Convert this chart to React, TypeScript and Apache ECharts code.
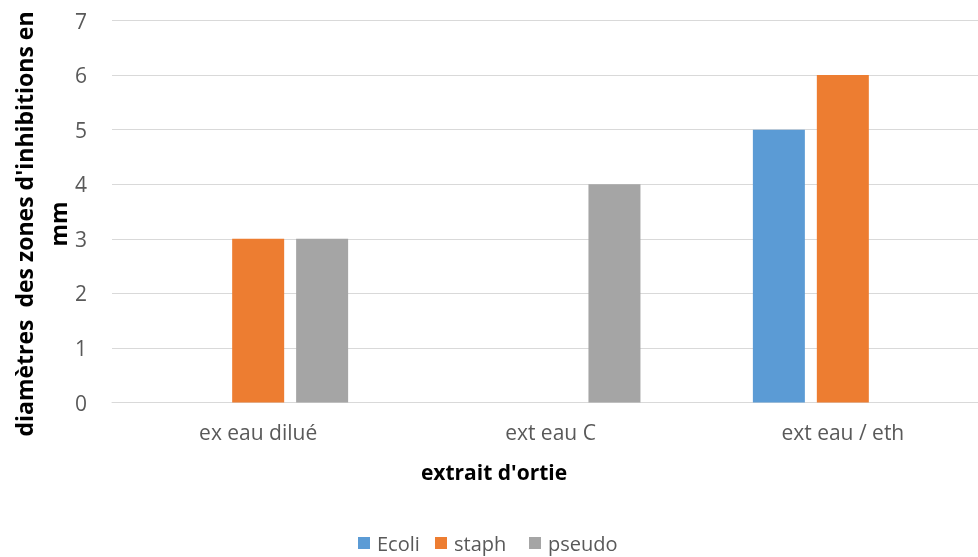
import React, { useEffect, useRef } from "react";
import * as echarts from "echarts";

const categories = ["ex eau dilué", "ext eau C", "ext eau / eth"];
const ecoli = [0, 0, 5];
const staph = [3, 0, 6];
const pseudo = [3, 4, 0];
const seriesNames = ["Ecoli", "staph", "pseudo"];
const colors = ["#5b9bd5", "#ed7d31", "#a5a5a5"];
const yTitle = "diamètres  des zones d'inhibitions en\nmm";
const xTitle = "extrait d'ortie";

export default function App() {
  const ref = useRef<HTMLDivElement>(null);
  useEffect(() => {
    if (!ref.current) return;
    const chart = echarts.init(ref.current, undefined, { renderer: "svg" });
    const font = "'Open Sans', 'Noto Sans', sans-serif";
    const data = [ecoli, staph, pseudo];
    const legendLefts = [358, 435, 529];
    chart.setOption({
      animation: false,
      textStyle: { fontFamily: font },
      grid: { left: 112, right: 0, top: 20.5, bottom: 154.5, containLabel: false },
      legend: seriesNames.map((n, i) => ({
        left: legendLefts[i],
        top: 533,
        padding: 0,
        itemWidth: 12,
        itemHeight: 12,
        icon: "rect",
        textStyle: { color: "#595959", fontSize: 20, lineHeight: 20, fontFamily: font, padding: [0, 0, 0, 2] },
        data: [n],
      })),
      graphic: [
        {
          type: "text",
          x: 41,
          y: 224,
          rotation: Math.PI / 2,
          style: {
            text: yTitle,
            fill: "#000",
            font: `bold 23px ${font}`,
            textAlign: "center",
            textVerticalAlign: "middle",
            lineHeight: 34,
          },
        },
        {
          type: "text",
          x: 494,
          y: 472,
          style: {
            text: xTitle,
            fill: "#000",
            font: `bold 21px ${font}`,
            textAlign: "center",
            textVerticalAlign: "middle",
          },
        },
      ],
      xAxis: {
        type: "category",
        data: categories,
        axisLine: { lineStyle: { color: "#d9d9d9", width: 1 } },
        axisTick: { show: false },
        axisLabel: { color: "#595959", fontSize: 21, margin: 19, fontFamily: font },
      },
      yAxis: {
        type: "value",
        min: 0,
        max: 7,
        interval: 1,
        axisLine: { show: false },
        axisTick: { show: false },
        axisLabel: { color: "#595959", fontSize: 21, margin: 25, fontFamily: font },
        splitLine: { lineStyle: { color: "#d9d9d9", width: 1 } },
      },
      series: data.map((d, i) => ({
        name: seriesNames[i],
        type: "bar",
        data: d,
        barWidth: 52,
        barGap: "23%",
        itemStyle: { color: colors[i] },
      })),
    });
    return () => chart.dispose();
  }, []);
  return (
    <div style={{ position: "fixed", left: 0, top: 0, width: 978, height: 557, overflow: "hidden" }}>
      <div ref={ref} style={{ width: 989, height: 557 }} />
    </div>
  );
}
